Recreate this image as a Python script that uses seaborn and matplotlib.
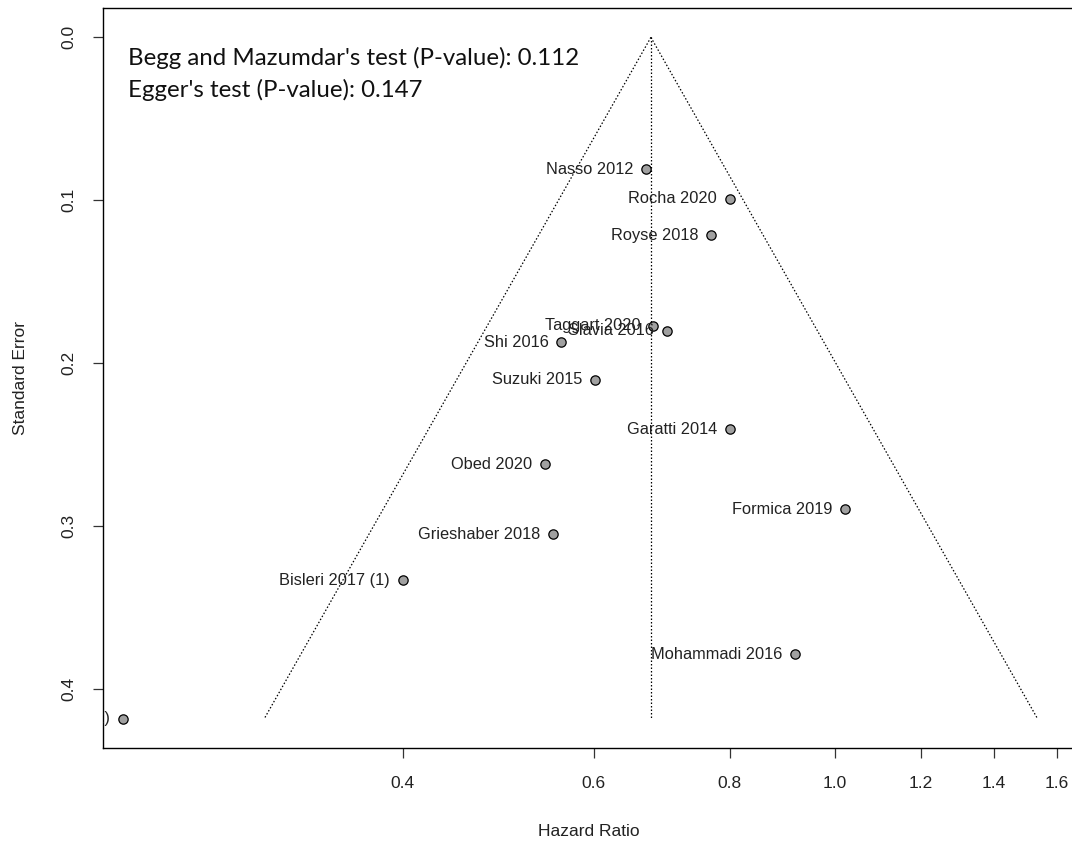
import numpy as np
import pandas as pd
import matplotlib
matplotlib.use("Agg")
import matplotlib.pyplot as plt
import seaborn as sns
from matplotlib.ticker import NullLocator, FixedLocator, FixedFormatter

studies = ["Nasso 2012", "Rocha 2020", "Royse 2018", "Taggart 2020", "Slavia 2016",
           "Shi 2016", "Suzuki 2015", "Garatti 2014", "Obed 2020", "Formica 2019",
           "Grieshaber 2018", "Bisleri 2017 (1)", "Mohammadi 2016", "Bisleri 2017 (2)"]
hazard_ratio = [0.670, 0.800, 0.769, 0.680, 0.700, 0.560, 0.601, 0.800, 0.541, 1.021,
                0.550, 0.400, 0.919, 0.221]
std_error = [0.081, 0.099, 0.1215, 0.177, 0.180, 0.187, 0.210, 0.2405, 0.262, 0.2896,
             0.305, 0.333, 0.3785, 0.418]
pooled_hr = 0.677
max_se = 0.418
xtick_values = [0.4, 0.6, 0.8, 1.0, 1.2, 1.4, 1.6]
xtick_labels = ["0.4", "0.6", "0.8", "1.0", "1.2", "1.4", "1.6"]
ytick_values = [0.0, 0.1, 0.2, 0.3, 0.4]
ytick_labels = ["0.0", "0.1", "0.2", "0.3", "0.4"]
annotation_lines = ["Begg and Mazumdar's test (P-value): 0.112",
                    "Egger's test (P-value): 0.147"]

sns.set_style("ticks")
plt.rcParams['font.family'] = ['Liberation Sans', 'DejaVu Sans']

df = pd.DataFrame({"study": studies, "hr": hazard_ratio, "se": std_error})

fig = plt.figure(figsize=(10.72, 8.44), dpi=100)
ax = fig.add_axes([103/1072, 96/844, 1 - 103/1072 + 0.002, (748 - 8)/844])

# funnel
se_line = np.array([0.0, max_se])
lo = np.exp(np.log(pooled_hr) - 1.96 * se_line)
hi = np.exp(np.log(pooled_hr) + 1.96 * se_line)
ls = (0, (1.2, 1.6))
ax.plot(lo, se_line, color="black", linestyle=ls, linewidth=0.9)
ax.plot(hi, se_line, color="black", linestyle=ls, linewidth=0.9)
ax.plot([pooled_hr, pooled_hr], [0.0, max_se], color="black", linestyle=ls, linewidth=0.9)

sns.scatterplot(data=df, x="hr", y="se", ax=ax, s=45, color="#a0a0a0",
                edgecolor="black", linewidth=0.9, zorder=3, legend=False)

for _, r in df.iterrows():
    ax.annotate(r["study"], (r["hr"], r["se"]), xytext=(-9, 0),
                textcoords="offset points", ha="right", va="center",
                fontsize=11.8, color="#222222", annotation_clip=False, clip_on=True)

ax.set_xscale("log")
ax.set_xlim(0.212, 1.66)
ax.set_ylim(0.436, -0.018)
ax.xaxis.set_major_locator(FixedLocator(xtick_values))
ax.xaxis.set_major_formatter(FixedFormatter(xtick_labels))
ax.xaxis.set_minor_locator(NullLocator())
ax.set_yticks(ytick_values)
ax.set_yticklabels(ytick_labels, rotation=90, va="center")
ax.tick_params(axis="both", length=7, width=0.9, color="#333333",
               labelsize=12.5, labelcolor="#222222")
ax.tick_params(axis="x", pad=13)
ax.tick_params(axis="y", pad=12)

ax.set_xlabel("Hazard Ratio", fontsize=12.5, color="#222222", labelpad=24)
ax.set_ylabel("Standard Error", fontsize=12.5, color="#222222", labelpad=24)

for sp in ax.spines.values():
    sp.set_visible(True)
    sp.set_color("black")
    sp.set_linewidth(1.0)

ax.text(0.026, 0.948, annotation_lines[0] + "\n" + annotation_lines[1],
        transform=ax.transAxes, ha="left", va="top", fontsize=17.3,
        family=["Lato", "DejaVu Sans"], color="#111111", linespacing=1.55)

fig.savefig("out.png", dpi=100)
